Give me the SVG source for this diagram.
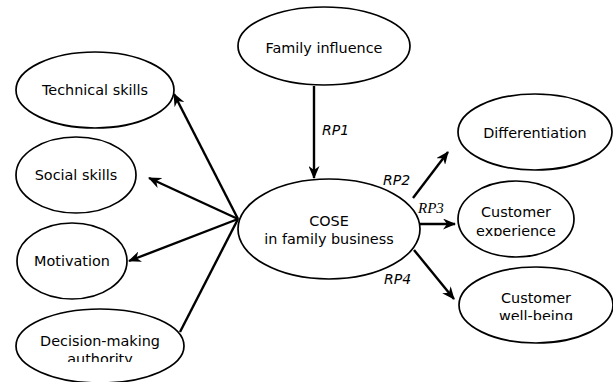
<svg xmlns="http://www.w3.org/2000/svg" width="613" height="382" viewBox="0 0 613 382">
<style>
.n{fill:#fff;stroke:#000;stroke-width:1.7}
.t{font-family:"DejaVu Sans",Verdana,sans-serif;font-size:14.4px;fill:#000;text-anchor:middle}
.rp{font-family:"DejaVu Sans",sans-serif;font-style:italic;font-size:14px;fill:#000}
.rps{font-family:"Liberation Serif",serif;font-style:italic;font-size:15px;fill:#000}
.c{stroke:#000;stroke-width:2.4;fill:none}
</style>
<defs>
<marker id="a" viewBox="0 0 13 11" refX="12" refY="5.5" markerWidth="13" markerHeight="11" markerUnits="userSpaceOnUse" orient="auto">
<path d="M0,0 L13,5.5 L0,11 L4,5.5 Z" fill="#000"/>
</marker>
<clipPath id="c1"><rect x="0" y="0" width="613" height="362"/></clipPath>
<clipPath id="c2"><rect x="0" y="0" width="613" height="236"/></clipPath>
<clipPath id="c3"><rect x="0" y="0" width="613" height="320"/></clipPath>
</defs>
<g id="connectors">
<line class="c" x1="314" y1="86" x2="314" y2="178" marker-end="url(#a)"/>
<line class="c" x1="238" y1="219" x2="174" y2="94" marker-end="url(#a)"/>
<line class="c" x1="238" y1="219" x2="149" y2="178" marker-end="url(#a)"/>
<line class="c" x1="238" y1="219" x2="129" y2="261" marker-end="url(#a)"/>
<line class="c" x1="238" y1="219" x2="180" y2="332"/>
<line class="c" x1="413" y1="198" x2="448" y2="152" marker-end="url(#a)"/>
<line class="c" x1="420" y1="224" x2="455" y2="224" marker-end="url(#a)"/>
<line class="c" x1="414" y1="250" x2="454" y2="299" marker-end="url(#a)"/>
<text class="rp" x="322" y="135">RP1</text>
<text class="rp" x="383" y="185">RP2</text>
<text class="rps" x="418" y="213">RP3</text>
<text class="rp" x="384" y="284">RP4</text>
</g>
<g id="family-influence">
<ellipse class="n" cx="324" cy="46" rx="86" ry="39"/>
<text class="t" x="324" y="53">Family influence</text>
</g>
<g id="technical-skills">
<ellipse class="n" cx="95" cy="90" rx="79" ry="38"/>
<text class="t" x="95" y="95">Technical skills</text>
</g>
<g id="social-skills">
<ellipse class="n" cx="76" cy="175" rx="60" ry="38"/>
<text class="t" x="76" y="180">Social skills</text>
</g>
<g id="motivation">
<ellipse class="n" cx="72" cy="261" rx="55" ry="38"/>
<text class="t" x="72" y="266">Motivation</text>
</g>
<g id="decision-making">
<ellipse class="n" cx="100" cy="346" rx="84" ry="37"/>
<text class="t" x="100" y="346">Decision-making</text>
<text class="t" x="100" y="364" clip-path="url(#c1)">authority</text>
</g>
<g id="cose">
<ellipse class="n" cx="329" cy="229" rx="91" ry="50"/>
<text class="t" x="329" y="226">COSE</text>
<text class="t" x="329" y="244">in family business</text>
</g>
<g id="differentiation">
<ellipse class="n" cx="535" cy="132" rx="77" ry="38"/>
<text class="t" x="535" y="138">Differentiation</text>
</g>
<g id="customer-experience">
<ellipse class="n" cx="516" cy="219" rx="58" ry="38"/>
<text class="t" x="516" y="217">Customer</text>
<text class="t" x="516" y="236" clip-path="url(#c2)">experience</text>
</g>
<g id="customer-well-being">
<ellipse class="n" cx="536" cy="305" rx="77" ry="38"/>
<text class="t" x="536" y="303">Customer</text>
<text class="t" x="536" y="321" clip-path="url(#c3)">well-being</text>
</g>
</svg>
